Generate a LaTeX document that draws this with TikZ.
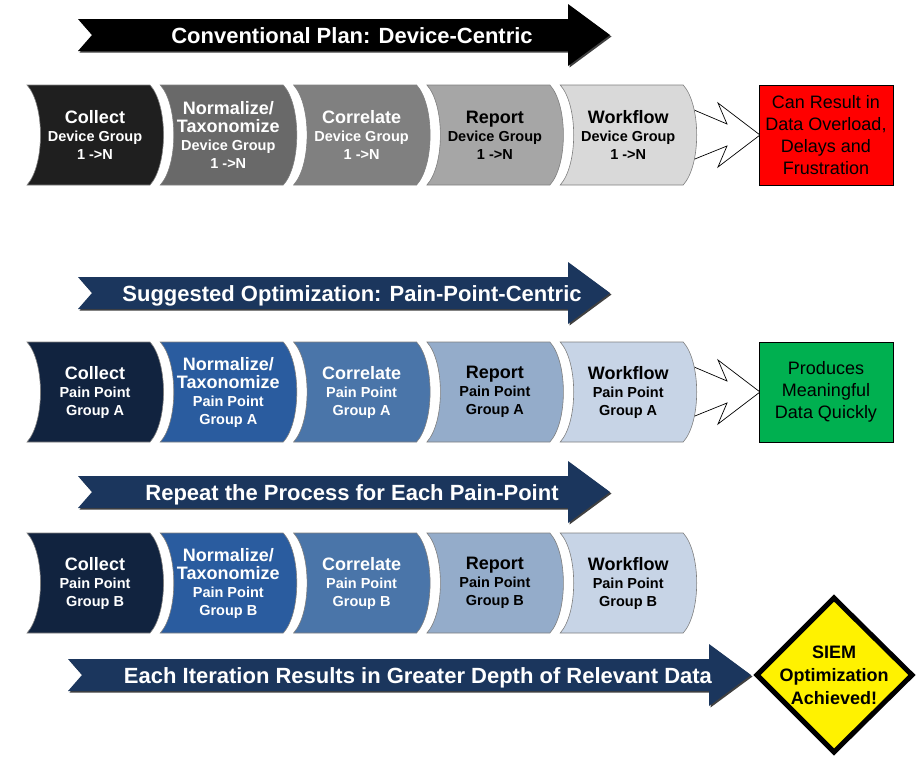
\documentclass[tikz,border=0pt]{standalone}
\usepackage{fontspec}
\setmainfont{Liberation Sans}
\definecolor{navy}{HTML}{1B365D}
\definecolor{ga}{HTML}{1F1F1F}
\definecolor{gb}{HTML}{696969}
\definecolor{gc}{HTML}{808080}
\definecolor{gd}{HTML}{A6A6A6}
\definecolor{ge}{HTML}{D9D9D9}
\definecolor{ba}{HTML}{11233F}
\definecolor{bb}{HTML}{2A5C9F}
\definecolor{bc}{HTML}{4A75A9}
\definecolor{bd}{HTML}{94ACCA}
\definecolor{be}{HTML}{C7D4E6}
\definecolor{okgreen}{HTML}{00B050}
\newcommand{\ttl}[1]{{\fontsize{18}{20}\selectfont #1}}
\newcommand{\HdrArrow}[7]{% #1 colour, #2 left, #3 head x, #4 tip, #5 mid y, #6 name, #7 text x
  \fill[black!75,shift={(1.5,-1.5)}] (#2,#5+16) -- (#3,#5+16) -- (#3,#5+31) -- (#4,#5) -- (#3,#5-31) -- (#3,#5-16) -- (#2,#5-16) -- (#2+14,#5) -- cycle;
  \fill[#1] (#2,#5+16) -- (#3,#5+16) -- (#3,#5+31) -- (#4,#5) -- (#3,#5-31) -- (#3,#5-16) -- (#2,#5-16) -- (#2+14,#5) -- cycle;
  \coordinate (#6) at (#7,#5-8);
}
\newcommand{\Chev}[6]{% #1 left, #2 top, #3 fill, #4 text colour, #5 name, #6 text
  \path[fill=#3,draw=black!50,line width=0.6] (#1,#2) -- (#1+123,#2) .. controls (#1+141,#2-20) and (#1+141,#2-80) .. (#1+123,#2-100) -- (#1,#2-100) .. controls (#1+18,#2-80) and (#1+18,#2-20) .. (#1,#2) -- cycle;
  \node[chevtext,text=#4] (#5) at (#1+68,#2-50) {#6};
}
\newcommand{\OpenArrow}[1]{% #1 top of row
  \draw[openarrow] (680,#1-19) -- (727,#1-39) -- (718,#1-18) -- (760,#1-50) -- (718,#1-82) -- (727,#1-61) -- (680,#1-80);
}
\tikzset{
  chevtext/.style={align=center,font=\bfseries\fontsize{14.5}{18}\selectfont,inner sep=0},
  hdrtext/.style={anchor=base,text=white,font=\bfseries\fontsize{22}{24}\selectfont,inner sep=0},
  outbox/.style={draw=black,line width=0.8,minimum width=134,minimum height=100,align=center,font=\fontsize{18}{22}\selectfont,inner sep=0},
  openarrow/.style={fill=white,draw=black,line width=0.7,line join=miter},
}
\begin{document}
\begin{tikzpicture}[x=1pt,y=1pt]
\useasboundingbox (0,0) rectangle (921,-772);
% ---------- Conventional plan
\HdrArrow{black}{78}{568}{610}{-35}{h1}{352}
\node[hdrtext] (t1) at (h1) {Conventional Plan: Device-Centric};
\OpenArrow{-85}
\Chev{27}{-85}{ga}{white}{c1}{\ttl{Collect}\\Device Group\\1 ->N}
\Chev{160.3}{-85}{gb}{white}{n1}{\ttl{Normalize/}\\\ttl{Taxonomize}\\Device Group\\1 ->N}
\Chev{293.6}{-85}{gc}{white}{r1}{\ttl{Correlate}\\Device Group\\1 ->N}
\Chev{426.9}{-85}{gd}{black}{p1}{\ttl{Report}\\Device Group\\1 ->N}
\Chev{560.2}{-85}{ge}{black}{w1}{\ttl{Workflow}\\Device Group\\1 ->N}
\node[outbox,fill=red] (res1) at (826,-135) {Can Result in\\Data Overload,\\Delays and\\Frustration};
% ---------- Suggested optimization
\HdrArrow{navy}{78}{568}{610}{-293}{h2}{352}
\node[hdrtext] (t2) at (h2) {Suggested Optimization: Pain-Point-Centric};
\OpenArrow{-342}
\Chev{27}{-342}{ba}{white}{c2}{\ttl{Collect}\\Pain Point\\Group A}
\Chev{160.3}{-342}{bb}{white}{n2}{\ttl{Normalize/}\\\ttl{Taxonomize}\\Pain Point\\Group A}
\Chev{293.6}{-342}{bc}{white}{r2}{\ttl{Correlate}\\Pain Point\\Group A}
\Chev{426.9}{-342}{bd}{black}{p2}{\ttl{Report}\\Pain Point\\Group A}
\Chev{560.2}{-342}{be}{black}{w2}{\ttl{Workflow}\\Pain Point\\Group A}
\node[outbox,fill=okgreen] (res2) at (826,-392) {Produces\\Meaningful\\Data Quickly};
% ---------- Repeat
\HdrArrow{navy}{78}{568}{610}{-492}{h3}{352}
\node[hdrtext] (t3) at (h3) {Repeat the Process for Each Pain-Point};
\Chev{27}{-533}{ba}{white}{c3}{\ttl{Collect}\\Pain Point\\Group B}
\Chev{160.3}{-533}{bb}{white}{n3}{\ttl{Normalize/}\\\ttl{Taxonomize}\\Pain Point\\Group B}
\Chev{293.6}{-533}{bc}{white}{r3}{\ttl{Correlate}\\Pain Point\\Group B}
\Chev{426.9}{-533}{bd}{black}{p3}{\ttl{Report}\\Pain Point\\Group B}
\Chev{560.2}{-533}{be}{black}{w3}{\ttl{Workflow}\\Pain Point\\Group B}
% ---------- Each iteration
\HdrArrow{navy}{68}{709}{751}{-675}{h4}{418}
\node[hdrtext] (t4) at (h4) {Each Iteration Results in Greater Depth of Relevant Data};
\draw[line width=5,fill=yellow,line join=miter] (834,-598) -- (912,-675) -- (834,-752) -- (757,-675) -- cycle;
\node[align=center,font=\bfseries\fontsize{18}{23}\selectfont,inner sep=0] (siem) at (834,-675) {SIEM\\Optimization\\Achieved!};
\end{tikzpicture}
\end{document}
